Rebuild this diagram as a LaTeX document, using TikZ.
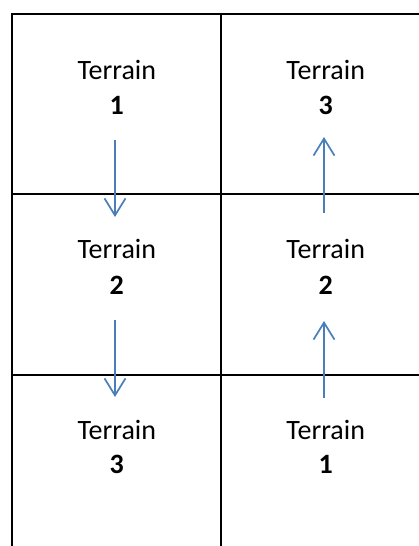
\documentclass[tikz,border=0pt]{standalone}
\usepackage{fontspec}
\setmainfont{Carlito}
\usetikzlibrary{arrows.meta}
\definecolor{flowblue}{HTML}{4A7EBB}
\tikzset{
  grid line/.style={line width=2pt, black},
  word/.style={anchor=base, inner sep=0pt, font=\fontsize{28}{34}\selectfont},
  digit/.style={anchor=base, inner sep=0pt, font=\fontsize{28}{34}\selectfont\bfseries},
  flow/.style={line width=1.7pt, flowblue, -{Straight Barb[length=17pt,width=21pt,line width=1.7pt]}}
}
\begin{document}
\begin{tikzpicture}[x=1pt,y=-1pt]
  \useasboundingbox (0,0) rectangle (419,546);
  % table rules (open at the bottom and on the right)
  \draw[grid line, line join=miter] (12.3,546) -- (12.3,13.7) -- (419,13.7);
  \draw[grid line] (221.3,13.7) -- (221.3,546);
  \draw[grid line] (12.3,194.3) -- (419,194.3);
  \draw[grid line] (12.3,375) -- (419,375);

  % left column: Terrain 1, 2, 3 from top to bottom
  \node[word]  (l1w) at (116.8,79)  {Terrain};
  \node[digit] (l1d) at (116.8,114) {1};
  \node[word]  (l2w) at (116.8,258) {Terrain};
  \node[digit] (l2d) at (116.8,294) {2};
  \node[word]  (l3w) at (116.8,439) {Terrain};
  \node[digit] (l3d) at (116.8,473) {3};

  % right column: Terrain 3, 2, 1 from top to bottom
  \node[word]  (r1w) at (325.7,79)  {Terrain};
  \node[digit] (r1d) at (325.7,114) {3};
  \node[word]  (r2w) at (325.7,258) {Terrain};
  \node[digit] (r2d) at (325.7,294) {2};
  \node[word]  (r3w) at (325.7,439) {Terrain};
  \node[digit] (r3d) at (325.7,473) {1};

  % arrow end points
  \coordinate (ldA) at (115,140);
  \coordinate (ldB) at (115,217);
  \coordinate (ldC) at (115,320);
  \coordinate (ldD) at (115,397);
  \coordinate (ruA) at (324,213);
  \coordinate (ruB) at (324,137);
  \coordinate (ruC) at (324,398);
  \coordinate (ruD) at (324,321);

  % order of the terrains
  \draw[flow] (ldA) -- (ldB);
  \draw[flow] (ldC) -- (ldD);
  \draw[flow] (ruA) -- (ruB);
  \draw[flow] (ruC) -- (ruD);
\end{tikzpicture}
\end{document}
